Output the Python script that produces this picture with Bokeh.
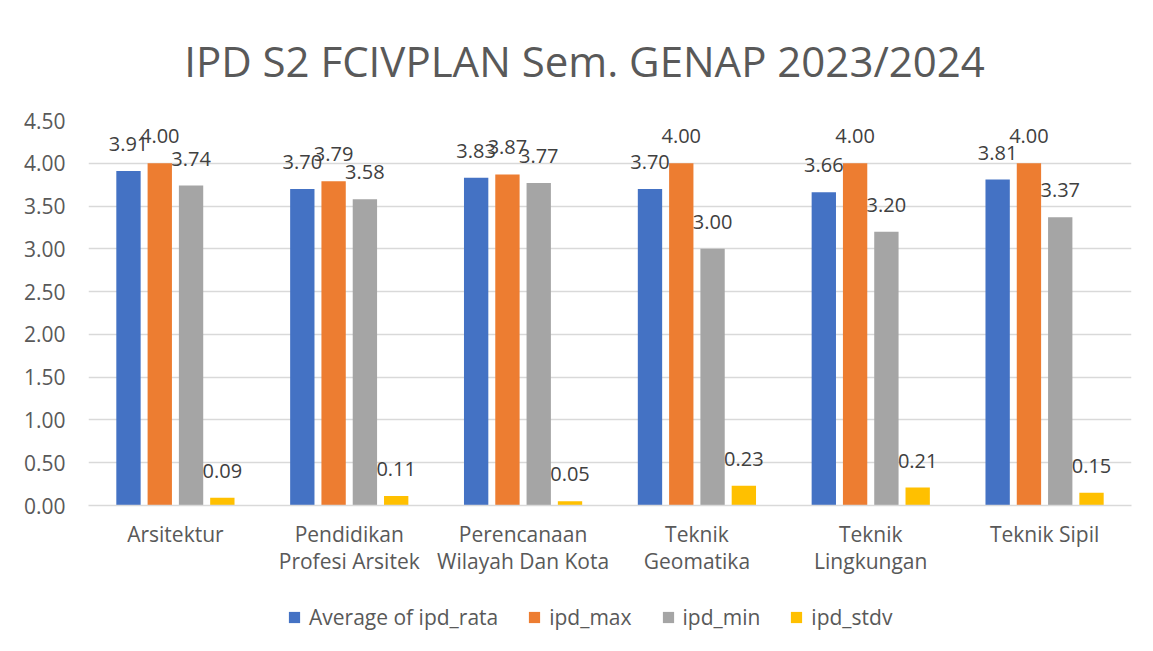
from bokeh.plotting import figure
from bokeh.layouts import column
from bokeh.models import (ColumnDataSource, FactorRange, Legend, LegendItem, FixedTicker,
                          NumeralTickFormatter, Range1d, Label)
from bokeh.transform import dodge
from bokeh.core.properties import value
from bokeh.embed import file_html
from bokeh.resources import INLINE

title_text = "IPD S2 FCIVPLAN Sem. GENAP 2023/2024"
categories = ["Arsitektur", "Pendidikan\nProfesi Arsitek", "Perencanaan\nWilayah Dan Kota",
              "Teknik\nGeomatika", "Teknik\nLingkungan", "Teknik Sipil"]
ipd_rata = [3.91, 3.70, 3.83, 3.70, 3.66, 3.81]
ipd_max = [4.00, 3.79, 3.87, 4.00, 4.00, 4.00]
ipd_min = [3.74, 3.58, 3.77, 3.00, 3.20, 3.37]
ipd_stdv = [0.09, 0.11, 0.05, 0.23, 0.21, 0.15]
series_names = ["Average of ipd_rata", "ipd_max", "ipd_min", "ipd_stdv"]
y_ticks = [0, 0.5, 1.0, 1.5, 2.0, 2.5, 3.0, 3.5, 4.0, 4.5]

colors = ["#4472C4", "#ED7D31", "#A5A5A5", "#FFC000"]
FONT = "Open Sans"

src = ColumnDataSource(dict(
    cat=categories,
    rata=ipd_rata, maxv=ipd_max, minv=ipd_min, stdv=ipd_stdv,
    rata_l=["%.2f" % v for v in ipd_rata],
    maxv_l=["%.2f" % v for v in ipd_max],
    minv_l=["%.2f" % v for v in ipd_min],
    stdv_l=["%.2f" % v for v in ipd_stdv],
))

# ---- title strip (pixel-like coordinates) ----
tt = figure(frame_width=1043, frame_height=108, x_range=Range1d(88, 1131), y_range=Range1d(0, 108),
            x_axis_location=None, y_axis_location=None, output_backend="svg",
            toolbar_location=None, min_border_left=88, min_border_right=6,
            min_border_top=0, min_border_bottom=0)
tt.outline_line_color = None
tt.xgrid.grid_line_color = None
tt.ygrid.grid_line_color = None
tt.add_layout(Label(x=584, y=48, text=title_text, text_align="center", text_baseline="middle",
                    text_font=FONT, text_font_size="42px", text_color="#595959"))

# ---- main chart ----
p = figure(frame_width=1043, frame_height=385,
           x_range=FactorRange(factors=categories, range_padding=0),
           y_range=Range1d(0, 4.5), output_backend="svg", toolbar_location=None,
           min_border_left=88, min_border_right=6, min_border_top=12, min_border_bottom=90)

cols = ["rata", "maxv", "minv", "stdv"]
offsets = [-0.27, -0.09, 0.09, 0.27]
for c, off, col in zip(cols, offsets, colors):
    p.vbar(x=dodge("cat", off, range=p.x_range), top=c, width=0.14, source=src,
           fill_color=col, line_color=None)
for c, off in zip(cols, offsets):
    p.text(x=dodge("cat", off, range=p.x_range), y=c, text=c + "_l", source=src,
           text_align="center", text_baseline="middle", y_offset=-27,
           text_font=value(FONT), text_font_size="20px", text_color="#404040")

p.outline_line_color = None
p.background_fill_color = "white"
p.border_fill_color = "white"

p.xgrid.grid_line_color = None
p.ygrid.grid_line_color = "#D9D9D9"
p.ygrid.grid_line_width = 1.5
p.yaxis.ticker = FixedTicker(ticks=y_ticks)
p.yaxis.formatter = NumeralTickFormatter(format="0.00")
p.yaxis.axis_line_color = None
p.yaxis.major_tick_line_color = None
p.yaxis.minor_tick_line_color = None
p.yaxis.major_tick_out = 0
p.yaxis.major_tick_in = 0
p.yaxis.major_label_standoff = 23
p.yaxis.major_label_text_font = FONT
p.yaxis.major_label_text_font_size = "21px"
p.yaxis.major_label_text_color = "#595959"

p.xaxis.axis_line_color = "#D9D9D9"
p.xaxis.axis_line_width = 1.5
p.xaxis.major_tick_line_color = None
p.xaxis.minor_tick_line_color = None
p.xaxis.major_tick_out = 0
p.xaxis.major_tick_in = 0
p.xaxis.major_label_standoff = 14
p.xaxis.major_label_text_font = FONT
p.xaxis.major_label_text_font_size = "21px"
p.xaxis.major_label_text_color = "#595959"
p.xaxis.major_label_text_line_height = 0.98

# ---- legend strip below the chart ----
lg = figure(frame_width=1043, frame_height=44,
            x_range=FactorRange(factors=categories, range_padding=0), y_range=Range1d(100, 101),
            x_axis_location=None, y_axis_location=None, output_backend="svg",
            toolbar_location=None, min_border_left=88, min_border_right=6,
            min_border_top=0, min_border_bottom=0)
lg.outline_line_color = None
lg.xgrid.grid_line_color = None
lg.ygrid.grid_line_color = None
items = []
for c, off, col, name in zip(cols, offsets, colors, series_names):
    r = lg.vbar(x=dodge("cat", off, range=lg.x_range), top=c, width=0.14, source=src,
                fill_color=col, line_color=None)
    items.append(LegendItem(label=name, renderers=[r]))
legend = Legend(items=items, orientation="horizontal", location=(199, 8),
                label_text_font=FONT, label_text_font_size="21px", label_text_color="#595959",
                glyph_width=14, glyph_height=14, spacing=29, label_standoff=8,
                border_line_color=None, background_fill_alpha=0, margin=0, padding=0)
lg.add_layout(legend, "center")

layout = column(tt, p, lg, spacing=0)
open("out.html", "w").write(file_html(layout, INLINE))
